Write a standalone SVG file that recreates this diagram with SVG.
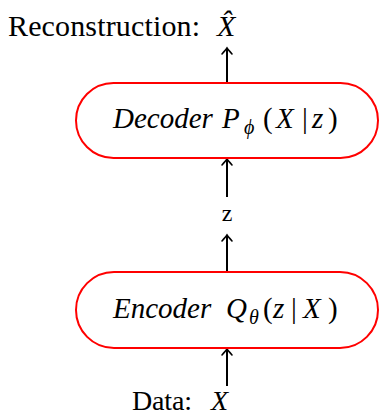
<svg xmlns="http://www.w3.org/2000/svg" width="381" height="415" viewBox="0 0 381 415">
<style>
  .box{fill:#fff;stroke:#f00;stroke-width:2}
  .conn{stroke:#000;stroke-width:2;fill:none}
  .t{font-family:"Liberation Serif","DejaVu Serif",serif;fill:#000}
  .i{font-style:italic}
</style>
<defs>
  <marker id="ah" markerUnits="userSpaceOnUse" markerWidth="16" markerHeight="16" viewBox="-8 -8 16 16" refX="0" refY="0" orient="auto">
    <path d="M-6,-5 Q-1.5,-1 0,0 Q-1.5,1 -6,5" fill="none" stroke="#000" stroke-width="1.6" stroke-linecap="round"/>
  </marker>
</defs>
<g id="connectors">
  <line class="conn" x1="227" y1="386" x2="227" y2="349" marker-end="url(#ah)"/>
  <line class="conn" x1="227" y1="272" x2="227" y2="235" marker-end="url(#ah)"/>
  <line class="conn" x1="227" y1="197" x2="227" y2="159" marker-end="url(#ah)"/>
  <line class="conn" x1="227" y1="83" x2="227" y2="48" marker-end="url(#ah)"/>
</g>
<g id="reconstruction">
  <text class="t" x="8" y="36" font-size="30" textLength="192" lengthAdjust="spacing">Reconstruction:</text>
  <text class="t i" x="217" y="36" font-size="30">X̂</text>
</g>
<g id="decoder">
  <rect class="box" x="76" y="83" width="302" height="75" rx="37.5"/>
  <text class="t i" y="128" font-size="29"><tspan x="113">Decoder</tspan><tspan x="222">P</tspan><tspan x="244" y="134" font-size="20">ϕ</tspan><tspan x="263" y="128" font-style="normal">(</tspan><tspan x="276">X</tspan><tspan x="302" font-style="normal">|</tspan><tspan x="312">z</tspan><tspan x="328" font-style="normal">)</tspan></text>
</g>
<g id="z">
  <text class="t" x="227" y="221" font-size="24" text-anchor="middle">z</text>
</g>
<g id="encoder">
  <rect class="box" x="76" y="272" width="302" height="76" rx="38"/>
  <text class="t i" y="318" font-size="29"><tspan x="113">Encoder</tspan><tspan x="226">Q</tspan><tspan x="249" y="324" font-size="20">θ</tspan><tspan x="263" y="318" font-style="normal">(</tspan><tspan x="273">z</tspan><tspan x="291" font-style="normal">|</tspan><tspan x="303">X</tspan><tspan x="328" font-style="normal">)</tspan></text>
</g>
<g id="data">
  <text class="t" x="132" y="410" font-size="28" textLength="60" lengthAdjust="spacing">Data:</text>
  <text class="t i" x="211" y="410" font-size="28">X</text>
</g>
</svg>
